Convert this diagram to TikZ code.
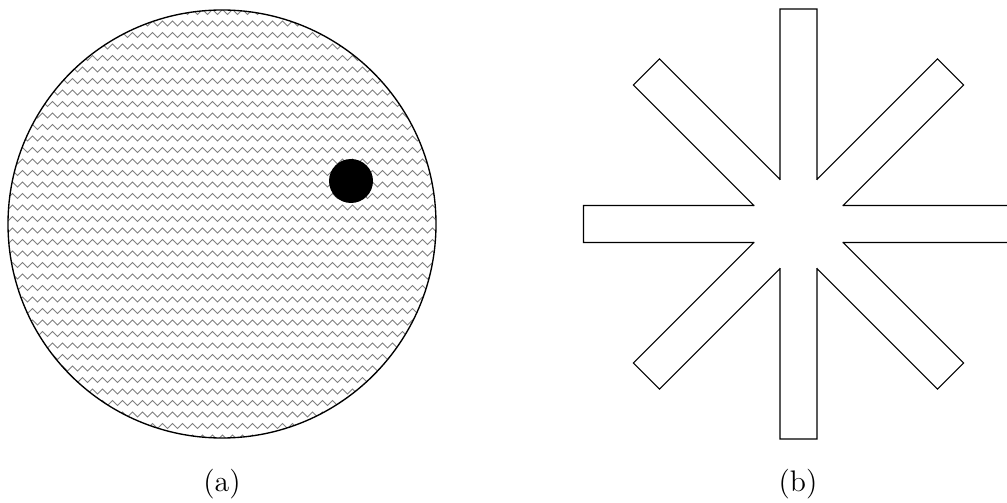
\documentclass[tikz,border=0pt]{standalone}
\usepackage{tikz}
\usetikzlibrary{decorations.pathmorphing}

\begin{document}
\begin{tikzpicture}[x=0.37pt,y=-0.37pt,
    wave/.style={gray,line width=0.3pt,decorate,
      decoration={zigzag,segment length=3.7pt,amplitude=0.95pt}},
    tag/.style={font=\fontsize{11}{13}\selectfont}]
    \useasboundingbox (0,0) rectangle (1007,503);
    % (a) disc filled with zigzag lines
    \begin{scope}
      \clip (222,224) circle[radius=214];
      \foreach \y in {12,23.5,...,440}
        \draw[wave] (0,\y) -- (450,\y);
    \end{scope}
    \draw[line width=0.5pt] (222,224) circle[radius=214];
    \fill (351,181) circle[radius=22];
    \node[tag] (a) at (222,484) {(a)};
    % (b) eight arms
    \begin{scope}[shift={(798.5,224)}]
      \draw (44.66,-18.5)
        \foreach \a in {0,45,...,315} {
          -- ([rotate=-\a]44.66,-18.5) -- ([rotate=-\a]215,-18.5)
          -- ([rotate=-\a]215,18.5) -- ([rotate=-\a]44.66,18.5)
        } -- cycle;
    \end{scope}
    \node[tag] (b) at (798,484) {(b)};
  \end{tikzpicture}
\end{document}
